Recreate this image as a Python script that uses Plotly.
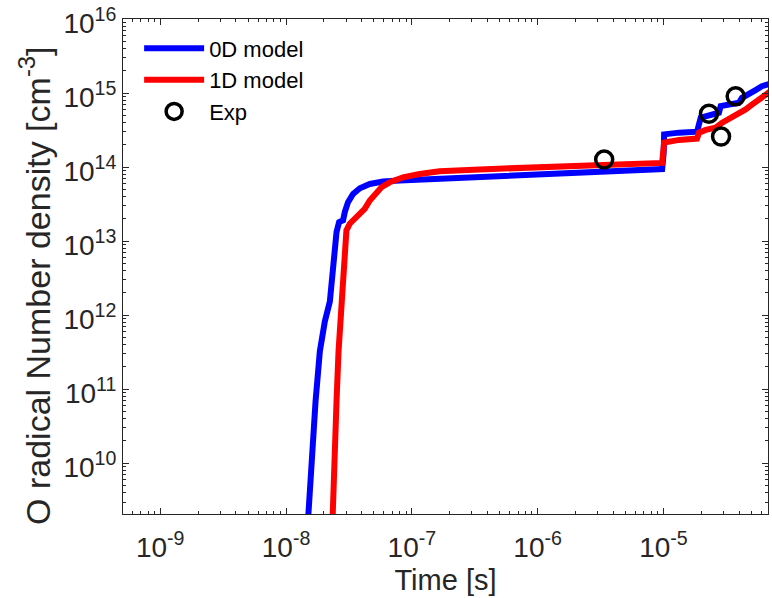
import plotly.graph_objects as go

# 0D model: O radical number density vs time
t_0d = [1.466e-8, 1.500e-8, 1.596e-8, 1.717e-8, 1.857e-8, 2.034e-8, 2.23e-8, 2.368e-8,
        2.52e-8, 2.64e-8, 2.84e-8, 2.93e-8, 3.11e-8, 3.41e-8, 3.86e-8, 4.63e-8,
        5.90e-8, 8.01e-8, 1.66e-7, 1.03e-6, 3.09e-6, 9.76e-6, 1.005e-5, 1.012e-5,
        1.331e-5, 1.849e-5, 1.978e-5, 2.43e-5, 2.76e-5, 2.85e-5, 3.50e-5, 3.98e-5,
        4.21e-5, 4.78e-5, 5.40e-5, 6.06e-5, 7.10e-5]
n_0d = [1.0e9, 2.09e9, 1.48e10, 6.94e10, 3.26e11, 8.23e11, 1.53e12, 5.26e12,
        1.33e13, 1.81e13, 1.91e13, 2.47e13, 3.36e13, 4.34e13, 5.18e13, 5.91e13,
        6.37e13, 6.57e13, 6.90e13, 7.98e13, 8.62e13, 9.40e13, 1.57e14, 2.77e14,
        2.92e14, 3.01e14, 4.65e14, 5.14e14, 5.42e14, 6.67e14, 7.01e14, 7.39e14,
        8.62e14, 9.55e14, 1.094e15, 1.237e15, 1.34e15]

# 1D model
t_1d = [2.317e-8, 2.343e-8, 2.412e-8, 2.52e-8, 2.614e-8, 2.75e-8, 2.84e-8, 2.93e-8,
        3.02e-8, 3.21e-8, 3.52e-8, 3.86e-8, 4.22e-8, 4.63e-8, 5.07e-8, 5.73e-8,
        6.67e-8, 8.50e-8, 1.153e-7, 1.66e-7, 3.45e-7, 1.03e-6, 3.09e-6, 9.76e-6,
        1.012e-5, 1.331e-5, 1.849e-5, 1.918e-5, 2.17e-5, 2.60e-5, 2.93e-5, 3.42e-5,
        3.98e-5, 4.50e-5, 5.08e-5, 5.74e-5, 6.48e-5, 7.10e-5]
n_1d = [1.0e9, 2.07e9, 1.48e10, 6.94e10, 3.26e11, 1.53e12, 4.27e12, 8.89e12,
        1.40e13, 1.72e13, 2.00e13, 2.34e13, 2.73e13, 3.54e13, 4.34e13, 5.34e13,
        6.23e13, 7.27e13, 8.05e13, 8.76e13, 9.31e13, 9.91e13, 1.07e14, 1.14e14,
        2.15e14, 2.33e14, 2.43e14, 2.92e14, 3.18e14, 3.41e14, 3.98e14, 4.65e14,
        5.14e14, 6.00e14, 7.01e14, 8.18e14, 9.55e14, 1.06e15]

# Experimental measurements
t_exp = [3.38e-6, 2.30e-5, 2.87e-5, 3.75e-5]
n_exp = [1.27e14, 5.26e14, 2.58e14, 9.03e14]

# Axis decades and their labels
x_decades = [-9, -8, -7, -6, -5]
x_tick_text = ["10<sup>-9</sup>", "10<sup>-8</sup>", "10<sup>-7</sup>",
               "10<sup>-6</sup>", "10<sup>-5</sup>"]
y_decades = [10, 11, 12, 13, 14, 15, 16]
y_tick_text = ["10<sup>10</sup>", "10<sup>11</sup>", "10<sup>12</sup>",
               "10<sup>13</sup>", "10<sup>14</sup>", "10<sup>15</sup>",
               "10<sup>16</sup>"]
x_title = "Time [s]"
y_title = "O radical Number density [cm<sup>-3</sup>]"

x_range = [-9.296, -4.169]
y_range = [9.315, 16.0]

ink = "#262626"
font_family = "Liberation Sans, Arial, sans-serif"


def minor_vals(lo, hi):
    vals = []
    for d in range(lo, hi + 1):
        for m in range(2, 10):
            vals.append(m * 10.0 ** d)
    return vals


fig = go.Figure()
fig.add_trace(go.Scatter(x=t_0d, y=n_0d, mode="lines", name="0D model",
                         line=dict(color="#0000FF", width=6)))
fig.add_trace(go.Scatter(x=t_1d, y=n_1d, mode="lines", name="1D model",
                         line=dict(color="#FF0000", width=6)))
fig.add_trace(go.Scatter(x=t_exp, y=n_exp, mode="markers", name="Exp",
                         marker=dict(symbol="circle-open", size=17, color="black",
                                     line=dict(width=3.5, color="black"))))

axis_common = dict(
    showline=True, linecolor=ink, linewidth=1, mirror="ticks",
    ticks="inside", ticklen=6, tickwidth=1, tickcolor=ink,
    showgrid=False, zeroline=False, ticklabeloverflow="allow",
    tickfont=dict(family=font_family, size=28, color=ink),
)

fig.update_xaxes(
    type="log", range=x_range,
    tickmode="array", tickvals=[10.0 ** d for d in x_decades], ticktext=x_tick_text,
    ticklabelstandoff=8,
    minor=dict(ticks="inside", ticklen=3, tickcolor=ink, tickwidth=1,
               tickmode="array", tickvals=minor_vals(-10, -5), showgrid=False),
    title=dict(text=x_title, font=dict(family=font_family, size=29, color=ink),
               standoff=8),
    **axis_common,
)
fig.update_yaxes(
    type="log", range=y_range,
    tickmode="array", tickvals=[10.0 ** d for d in y_decades], ticktext=y_tick_text,
    ticklabelshift=4,
    minor=dict(ticks="inside", ticklen=3, tickcolor=ink, tickwidth=1,
               tickmode="array", tickvals=minor_vals(9, 15), showgrid=False),
    **axis_common,
)

# vertical axis label, placed beside the tick labels
fig.add_annotation(
    text=y_title, textangle=-90, showarrow=False,
    xref="paper", yref="paper", x=-0.137, y=0.46,
    xanchor="center", yanchor="middle",
    font=dict(family=font_family, size=34, color=ink),
)

fig.update_layout(
    width=772, height=598,
    margin=dict(l=123, r=3, t=16, b=84),
    paper_bgcolor="white", plot_bgcolor="white",
    showlegend=True,
    legend=dict(x=0.025, y=0.983, xanchor="left", yanchor="top",
                bgcolor="rgba(0,0,0,0)", borderwidth=0,
                font=dict(family=font_family, size=22, color="black"),
                itemwidth=60, tracegroupgap=0),
)

fig.write_html("out.html")
